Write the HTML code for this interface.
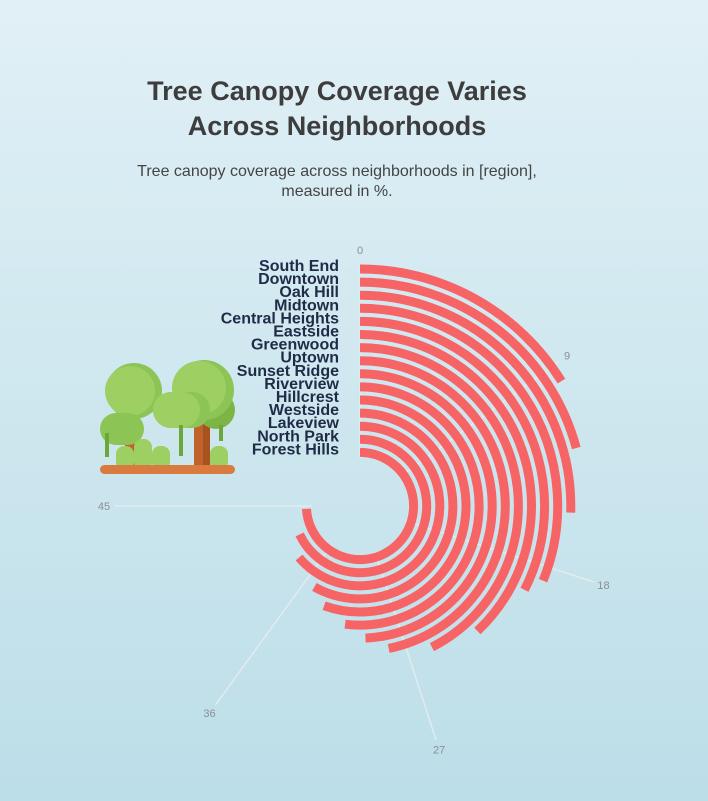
<!DOCTYPE html>
<html><head><meta charset="utf-8"><style>
html,body{margin:0;padding:0}
body{width:708px;height:801px;background:linear-gradient(#e1f0f6,#bcdee8);font-family:"Liberation Sans",sans-serif;position:relative;overflow:hidden}
.title{position:absolute;left:0;width:674px;top:74px;text-align:center;font-weight:bold;font-size:27px;line-height:35px;color:#3d3d3d}
.sub{position:absolute;left:0;width:674px;top:162px;text-align:center;font-size:16px;line-height:20px;color:#444}
svg{position:absolute;left:0;top:0}
</style></head><body>
<div class="title">Tree Canopy Coverage Varies<br>Across Neighborhoods</div>
<div class="sub">Tree canopy coverage across neighborhoods in [region],<br>measured in %.</div>
<svg width="708" height="801" id="chart">
<g>
<rect x="125" y="410" width="14" height="57" fill="#c0622c"/>
<rect x="194" y="385" width="16" height="82" fill="#c0622c"/>
<rect x="203" y="385" width="7" height="82" fill="#a8521f"/>
<circle cx="216" cy="410" r="19" fill="#7db446"/>
<circle cx="134" cy="391" r="28" fill="#8cc456"/>
<circle cx="130" cy="391" r="25" fill="#9dcf63"/>
<circle cx="204" cy="390" r="30" fill="#8cc456"/>
<circle cx="199" cy="388" r="27" fill="#9dcf63"/>
<rect x="100" y="413" width="44" height="32" rx="16" fill="#8cc456"/>
<rect x="153" y="392" width="57" height="36" rx="18" fill="#8cc456"/>
<rect x="153" y="392" width="47" height="36" rx="18" fill="#9dcf63"/>
<rect x="105" y="433" width="4" height="24" fill="#6aa83a"/>
<rect x="179" y="425" width="4" height="31" fill="#6aa83a"/>
<rect x="219" y="425" width="4" height="16" fill="#6aa83a"/>
<rect x="116" y="446" width="18" height="24" rx="8" fill="#9dcf63"/>
<rect x="134" y="439" width="18" height="31" rx="8" fill="#9dcf63"/>
<rect x="152" y="446" width="18" height="24" rx="8" fill="#9dcf63"/>
<rect x="210" y="446" width="18" height="24" rx="8" fill="#9dcf63"/>
<rect x="100" y="465" width="135" height="9" rx="4.5" fill="#d97a3e"/>
</g>
<g id="grid"></g><g id="bars"></g><g id="labels"></g>
</svg>
<script>
const categories=["South End","Downtown","Oak Hill","Midtown","Central Heights","Eastside","Greenwood","Uptown","Sunset Ridge","Riverview","Hillcrest","Westside","Lakeview","North Park","Forest Hills"];
const values=[9.7,12.5,15.3,18.7,19.5,22.8,25.5,28.1,29.6,31.2,33.3,34.9,38.3,40.8,44.5];
const ticks=[0,9,18,27,36,45];
const cx=360,cy=506,rOuter=237,step=13.1,thick=9,maxV=45,maxA=270;
const ns="http://www.w3.org/2000/svg";
function ang(v){return v/maxV*maxA*Math.PI/180;}
function pt(r,a){return [cx+r*Math.sin(a),cy-r*Math.cos(a)];}
const grid=document.getElementById('grid'),bars=document.getElementById('bars'),labels=document.getElementById('labels');
ticks.forEach(t=>{
  const a=ang(t);const p1=pt(48,a),p2=pt(246,a),p3=pt(256,a);
  const l=document.createElementNS(ns,'line');
  
  
  l.setAttribute('x1',p1[0]);l.setAttribute('y1',p1[1]);l.setAttribute('x2',p2[0]);l.setAttribute('y2',p2[1]);
  l.setAttribute('stroke','#e2ebee');l.setAttribute('stroke-width','1.5');
  grid.appendChild(l);
  const tx=document.createElementNS(ns,'text');
  
  
  tx.setAttribute('x',p3[0]);tx.setAttribute('y',p3[1]+4);tx.setAttribute('text-anchor','middle');
  tx.setAttribute('font-size','11');tx.setAttribute('fill','#8a8f94');tx.textContent=t;
  grid.appendChild(tx);
});
categories.forEach((c,i)=>{
  const r=rOuter-i*step;const a=ang(values[i]);
  const s=pt(r,0),e=pt(r,a);const large=a>Math.PI?1:0;
  const p=document.createElementNS(ns,'path');
  
  
  p.setAttribute('d',`M${s[0]},${s[1]} A${r},${r} 0 ${large} 1 ${e[0]},${e[1]}`);
  p.setAttribute('fill','none');p.setAttribute('stroke','#f66466');p.setAttribute('stroke-width',thick);
  bars.appendChild(p);
  const t=document.createElementNS(ns,'text');
  
  
  t.setAttribute('x',339);t.setAttribute('y',cy-r+2);t.setAttribute('text-anchor','end');
  t.setAttribute('font-size','16');t.setAttribute('font-weight','bold');t.setAttribute('fill','#1f2b47');
  t.textContent=c;labels.appendChild(t);
});
</script>
</body></html>
